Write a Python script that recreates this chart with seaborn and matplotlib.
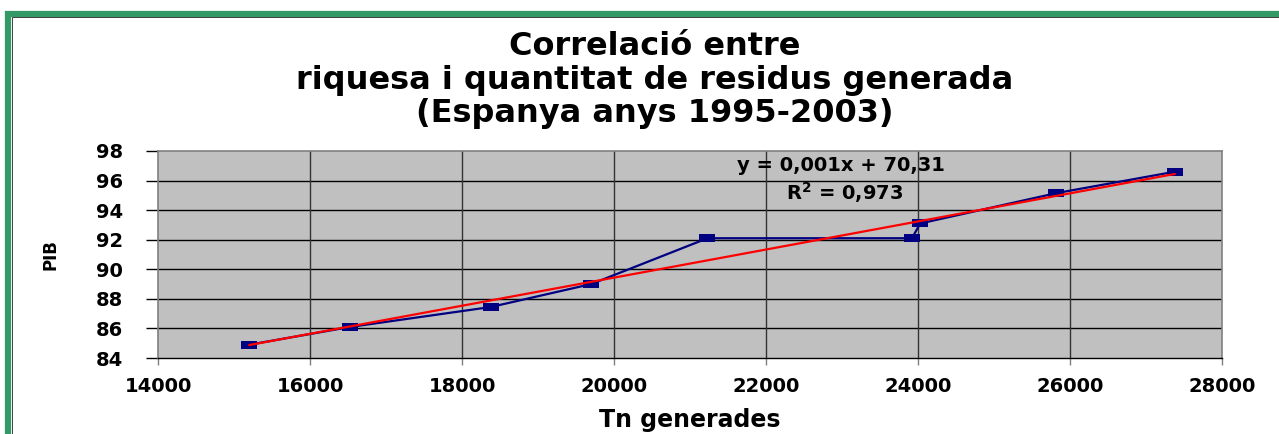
import numpy as np
import pandas as pd
import matplotlib
matplotlib.use("Agg")
import matplotlib.pyplot as plt
from matplotlib.patches import Rectangle
import seaborn as sns

# Data (Spain 1995-2003)
tn_generades = [15200, 16530, 18380, 19700, 21230, 23920, 24030, 25820, 27380]
pib = [84.9, 86.1, 87.45, 89.0, 92.1, 92.1, 93.1, 95.15, 96.6]
x_ticks = [14000, 16000, 18000, 20000, 22000, 24000, 26000, 28000]
y_ticks = [84, 86, 88, 90, 92, 94, 96, 98]
title = "Correlació entre\nriquesa i quantitat de residus generada\n(Espanya anys 1995-2003)"
equation = "y = 0,001x + 70,31"
r2_text = "R$^{\\mathbf{2}}$ = 0,973"

df = pd.DataFrame({"Tn": tn_generades, "PIB": pib})

sns.set_theme(style="white")
plt.rcParams['font.family'] = ['DejaVu Sans']
plt.rcParams['text.color'] = 'black'
plt.rcParams['axes.labelcolor'] = 'black'
plt.rcParams['xtick.color'] = 'black'
plt.rcParams['ytick.color'] = 'black'
plt.rcParams['mathtext.fontset'] = 'dejavusans'

fig = plt.figure(figsize=(12.79, 4.34), dpi=100)
fig.patch.set_facecolor("white")

# green frame (extends beyond right/bottom edges)
frame = Rectangle((8 / 1279, -0.2), 1.5, (434 - 14) / 434 + 0.2, transform=fig.transFigure,
                  fill=False, edgecolor="#339966", linewidth=4.5, zorder=0)
fig.patches.append(frame)
inner = Rectangle((12 / 1279, -0.2), 1.5, (434 - 17) / 434 + 0.2, transform=fig.transFigure,
                  fill=False, edgecolor="#222222", linewidth=0.6, zorder=0)
fig.patches.append(inner)

ax = fig.add_axes([158 / 1279, (434 - 358) / 434, (1222 - 158) / 1279, (358 - 151) / 434])
ax.set_facecolor("#c0c0c0")

box = [(-1, -0.58), (1, -0.58), (1, 0.58), (-1, 0.58), (-1, -0.58)]
sns.lineplot(data=df, x="Tn", y="PIB", ax=ax, color="#000080", linewidth=1.6,
             marker=box, markersize=11, markeredgewidth=0, markerfacecolor="#000080",
             sort=False, zorder=3)
sns.regplot(data=df, x="Tn", y="PIB", ax=ax, scatter=False, ci=None, truncate=True,
            line_kws={"color": "#ff0000", "linewidth": 1.6, "zorder": 4})

ax.set_xlim(14000, 28000)
ax.set_ylim(84, 98)
ax.set_xticks(x_ticks)
ax.set_yticks(y_ticks)
ax.set_xticklabels([str(v) for v in x_ticks], fontsize=14, fontweight="bold")
ax.set_yticklabels([str(v) for v in y_ticks], fontsize=14, fontweight="bold")

ax.grid(False)
for v in y_ticks[1:-1]:
    ax.axhline(v, color="black", linewidth=1.0, zorder=1)
for v in x_ticks[1:-1]:
    ax.axvline(v, color="#333333", linewidth=1.0, zorder=1)

for s in ["left", "top", "right"]:
    ax.spines[s].set_color("#808080")
    ax.spines[s].set_linewidth(1.2)
ax.spines["bottom"].set_color("black")
ax.spines["bottom"].set_linewidth(1.0)

ax.tick_params(axis="y", direction="out", length=9, width=1, color="black", pad=16, left=True)
ax.tick_params(axis="x", direction="out", length=5, width=1, color="#808080", pad=9, bottom=True)

ax.set_xlabel("Tn generades", fontsize=17, fontweight="bold", labelpad=8)
ax.set_ylabel("PIB", fontsize=12, fontweight="bold", labelpad=26)

ax.text(0.642, 0.932, equation, transform=ax.transAxes, ha="center", va="center",
        fontsize=14, fontweight="bold", zorder=5)
ax.text(0.645, 0.797, r2_text, transform=ax.transAxes, ha="center", va="center",
        fontsize=14, fontweight="bold", zorder=5)

fig.text(655 / 1279, 1 - 80 / 434, title, ha="center", va="center", fontsize=23,
         fontweight="bold", linespacing=1.12)

fig.savefig("out.png", dpi=100, facecolor="white")
